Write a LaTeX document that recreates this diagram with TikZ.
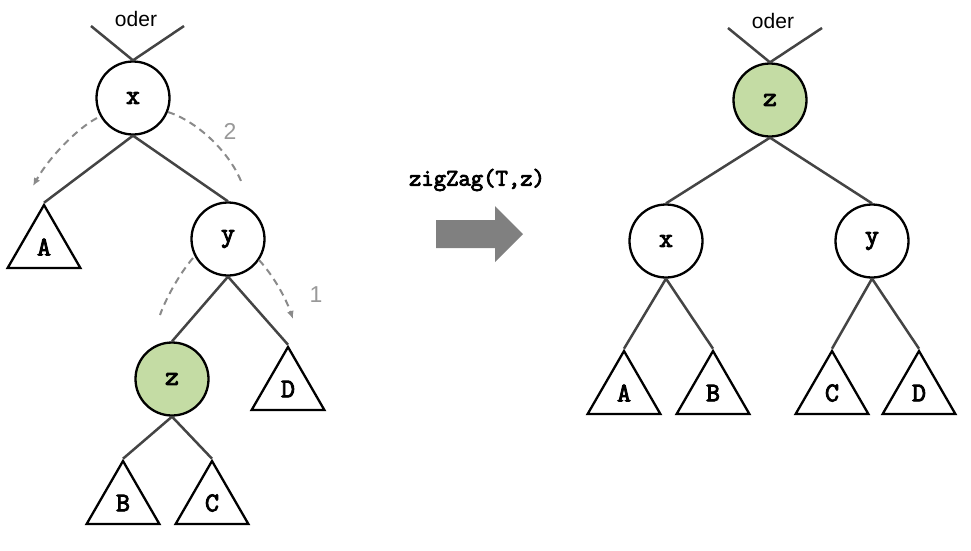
\documentclass[tikz,border=0pt]{standalone}
\usepackage{fontspec}
\setmainfont{Liberation Sans}
\setmonofont[AutoFakeBold=3.5]{Latin Modern Mono}
\usetikzlibrary{shapes.geometric,arrows.meta}
\definecolor{edgecol}{HTML}{444444}
\definecolor{dashcol}{HTML}{8A8A8A}
\definecolor{numcol}{HTML}{999999}
\definecolor{zgreen}{HTML}{C4DCA4}
\definecolor{bigarrow}{HTML}{808080}
\tikzset{
  knot/.style={circle,draw=black,line width=2.3pt,minimum size=73pt,inner sep=0pt,fill=white,
    font=\fontsize{27}{30}\selectfont\ttfamily\bfseries},
  greenknot/.style={knot,fill=zgreen},
  subtree/.style={regular polygon,regular polygon sides=3,draw=black,line width=2.3pt,
    minimum size=84pt,inner sep=0pt,font=\fontsize{27}{30}\selectfont\ttfamily\bfseries},
  edge/.style={draw=edgecol,line width=2.5pt},
  hint/.style={draw=dashcol,line width=2pt,dash pattern=on 7pt off 5pt},
  hintarrow/.style={hint,-{Latex[length=8pt,width=7pt]}},
  num/.style={text=numcol,font=\fontsize{23}{26}\selectfont},
  odertext/.style={font=\fontsize{21}{24}\selectfont},
}
\begin{document}
\begin{tikzpicture}[x=1pt,y=-1pt]
\useasboundingbox (0,0) rectangle (971,550);
% ---------- left tree ----------
\node[knot] (lx) at (133,98) {x};
\node[knot] (ly) at (228,239) {y};
\node[greenknot] (lz) at (172,379) {z};
\node[subtree] (lA) at (44,247) {\raisebox{-5pt}{A}};
\node[subtree] (lD) at (288,389) {\raisebox{-5pt}{D}};
\node[subtree] (lB) at (123,503) {\raisebox{-5pt}{B}};
\node[subtree] (lC) at (212,503) {\raisebox{-5pt}{C}};
\coordinate (lo1) at (91,26);
\coordinate (lo2) at (184,26);
\node[odertext] (lodertxt) at (136,19) {oder};
\draw[edge] (lo1) -- (lx.north);
\draw[edge] (lo2) -- (lx.north);
\draw[edge] (lx.south) -- (lA.corner 1);
\draw[edge] (lx.south) -- (ly.north);
\draw[edge] (ly.south) -- (lz.north);
\draw[edge] (ly.south) -- (lD.corner 1);
\draw[edge] (lz.south) -- (lB.corner 1);
\draw[edge] (lz.south) -- (lC.corner 1);
% dashed hints
\coordinate (h1s) at (97,118);
\coordinate (h1e) at (33,186);
\draw[hintarrow] (h1s) .. controls (78,128) and (50,156) .. (h1e);
\coordinate (h2s) at (168,112);
\coordinate (h2e) at (241,181);
\draw[hint] (h2s) .. controls (196,121) and (228,150) .. (h2e);
\coordinate (h3s) at (193,258);
\coordinate (h3e) at (160,315);
\draw[hint] (h3s) .. controls (180,273) and (166,298) .. (h3e);
\coordinate (h4s) at (259,260);
\coordinate (h4e) at (293,319);
\draw[hintarrow] (h4s) .. controls (272,274) and (285,296) .. (h4e);
\node[num] (n2) at (230,131) {2};
\node[num] (n1) at (316,295) {1};
% ---------- middle ----------
\node[font=\fontsize{24}{27}\selectfont\ttfamily\bfseries] (op) at (477,180) {zigZag(T,z)};
\fill[bigarrow] (436,220) -- (495,220) -- (495,206) -- (523,234) -- (495,262) -- (495,248) -- (436,248) -- cycle;
% ---------- right tree ----------
\node[greenknot] (rz) at (770,100) {z};
\node[knot] (rx) at (666,241) {x};
\node[knot] (ry) at (872,241) {y};
\node[subtree] (rA) at (624,393) {\raisebox{-5pt}{A}};
\node[subtree] (rB) at (713,393) {\raisebox{-5pt}{B}};
\node[subtree] (rC) at (832,393) {\raisebox{-5pt}{C}};
\node[subtree] (rD) at (919,393) {\raisebox{-5pt}{D}};
\coordinate (ro1) at (728,28);
\coordinate (ro2) at (822,28);
\node[odertext] (rodertxt) at (773,21) {oder};
\draw[edge] (ro1) -- (rz.north);
\draw[edge] (ro2) -- (rz.north);
\draw[edge] (rz.south) -- (rx.north);
\draw[edge] (rz.south) -- (ry.north);
\draw[edge] (rx.south) -- (rA.corner 1);
\draw[edge] (rx.south) -- (rB.corner 1);
\draw[edge] (ry.south) -- (rC.corner 1);
\draw[edge] (ry.south) -- (rD.corner 1);
\end{tikzpicture}
\end{document}
